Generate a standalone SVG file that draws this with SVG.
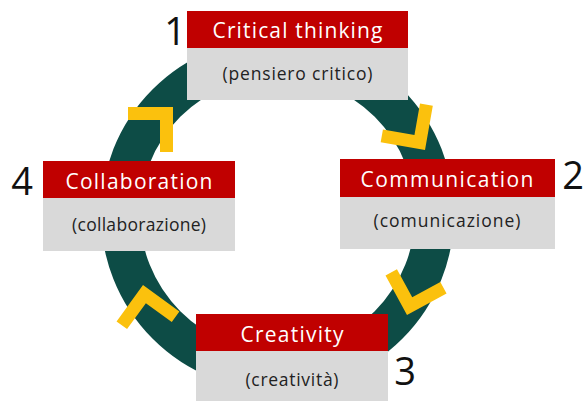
<svg xmlns="http://www.w3.org/2000/svg" width="584" height="401" viewBox="0 0 584 401">
<style>
.ring{fill:none;stroke:#0d4c46;stroke-width:39}
.chev{fill:#fbc10d}
.hdr{fill:#c00000}
.sub{fill:#d9d9d9}
.t{font-family:"Open Sans","Liberation Sans",sans-serif;font-size:21px;fill:#ffffff;text-anchor:middle}
.s{font-family:"Open Sans","Liberation Sans",sans-serif;font-size:17.5px;fill:#222222;text-anchor:middle}
.n{font-family:"Open Sans","Liberation Sans",sans-serif;font-size:38px;fill:#111111;text-anchor:middle}
</style>
<defs>
<path id="chev" d="M0,0 H45 V13 H13 V45 H0 Z"/>
</defs>
<g id="connectors">
<circle class="ring" cx="277.5" cy="214" r="157"/>
<use href="#chev" class="chev" transform="translate(173,107) rotate(90)"/>
<use href="#chev" class="chev" transform="translate(425,150) rotate(-170)"/>
<use href="#chev" class="chev" transform="translate(407,315) rotate(-118.5)"/>
<use href="#chev" class="chev" transform="translate(143,285) rotate(36)"/>
</g>
<g id="node1">
<rect class="hdr" x="187" y="11" width="221" height="37"/>
<rect class="sub" x="187" y="48" width="221" height="52"/>
<text class="t" x="297.5" y="38" textLength="170" lengthAdjust="spacing">Critical thinking</text>
<text class="s" x="297.5" y="80" textLength="150" lengthAdjust="spacing">(pensiero critico)</text>
<text class="n" x="175" y="45">1</text>
</g>
<g id="node2">
<rect class="hdr" x="340" y="159" width="215" height="38"/>
<rect class="sub" x="340" y="197" width="215" height="52"/>
<text class="t" x="447" y="186.5" textLength="173" lengthAdjust="spacing">Communication</text>
<text class="s" x="447" y="227" textLength="147" lengthAdjust="spacing">(comunicazione)</text>
<text class="n" x="573" y="189">2</text>
</g>
<g id="node3">
<rect class="hdr" x="196" y="314" width="192" height="37"/>
<rect class="sub" x="196" y="351" width="192" height="50"/>
<text class="t" x="292" y="341.5" textLength="103" lengthAdjust="spacing">Creativity</text>
<text class="s" x="292" y="386" textLength="93" lengthAdjust="spacing">(creatività)</text>
<text class="n" x="405" y="385">3</text>
</g>
<g id="node4">
<rect class="hdr" x="43" y="161" width="192" height="37"/>
<rect class="sub" x="43" y="198" width="192" height="53"/>
<text class="t" x="139" y="189" textLength="147" lengthAdjust="spacing">Collaboration</text>
<text class="s" x="139" y="231" textLength="134" lengthAdjust="spacing">(collaborazione)</text>
<text class="n" x="22" y="195">4</text>
</g>
</svg>
